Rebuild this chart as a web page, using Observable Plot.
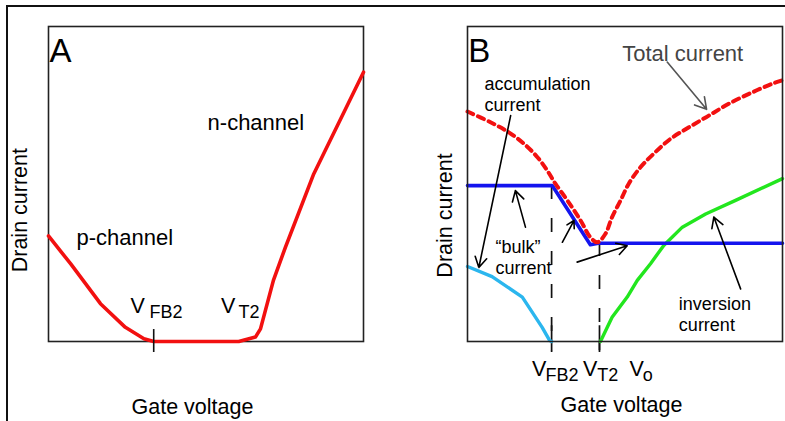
<!DOCTYPE html>
<html>
<head>
<meta charset="utf-8">
<script src="https://cdn.jsdelivr.net/npm/d3@7"></script>
<script src="https://cdn.jsdelivr.net/npm/@observablehq/plot@0.6"></script>
<style>
  html, body { margin: 0; padding: 0; background: #fff; }
  #wrap { position: relative; width: 785px; height: 421px; overflow: hidden; font-family: "Liberation Sans", Arial, sans-serif; }
  #frame { position: absolute; left: 6px; top: 5px; width: 800px; height: 430px; border-top: 2px solid #111; border-left: 2px solid #111; }
  #pa { position: absolute; left: 0; top: 0; }
  #pb { position: absolute; left: 392px; top: 0; }
</style>
</head>
<body>
<div id="wrap"><div id="frame"></div><div id="pa"></div><div id="pb"></div></div>
<script>
// ---------- Panel A: drain current vs gate voltage (schematic units 0..10) ----------
const aGate  = [0, 0.70, 1.65, 2.44, 3.03, 3.34, 6.04, 6.57, 6.73, 7.14, 7.52, 8.42, 10.0];
const aDrain = [3.35, 2.47, 1.20, 0.45, 0.09, 0, 0, 0.14, 0.40, 1.94, 2.99, 5.32, 8.55];
const aVFB2 = 3.34;

// ---------- Panel B ----------
const totalGate  = [0, 0.73, 1.31, 1.79, 2.22, 2.53, 2.79, 3.17, 3.59, 3.90, 4.12, 4.38, 4.59, 4.86, 5.12, 5.49, 5.91, 6.44, 7.03, 7.66, 8.30, 9.04, 9.67, 9.99];
const totalDrain = [7.30, 6.96, 6.64, 6.28, 5.85, 5.43, 5.01, 4.48, 3.84, 3.31, 3.15, 3.42, 3.95, 4.48, 5.01, 5.53, 5.96, 6.43, 6.80, 7.17, 7.55, 7.91, 8.18, 8.29];
const bulkGate  = [0, 2.69, 3.90, 4.15, 10.0];
const bulkDrain = [4.95, 4.95, 3.07, 3.12, 3.12];
const accumGate  = [0, 0.78, 1.74, 2.37, 2.61, 2.67];
const accumDrain = [2.38, 2.06, 1.41, 0.45, 0.03, 0];
const invGate  = [4.22, 4.59, 5.07, 5.39, 5.81, 6.23, 6.82, 7.56, 8.51, 10.0];
const invDrain = [0, 0.77, 1.41, 1.94, 2.47, 3.05, 3.63, 4.05, 4.48, 5.17];
const bVFB2 = 2.67, bVT2 = 4.19;
const bDashTop = [4.95, 3.14];

// text labels
const tickMain = ["V", "V", "V"];
const tickSubA = ["FB2", "T2"];
const tickSubB = ["FB2", "T2", "o"];

const toRows = (xs, ys) => xs.map((x, i) => ({x, y: ys[i]}));

const FONT = "Liberation Sans, Arial, Helvetica, sans-serif";
const common = {
  height: 421, marginTop: 26, marginBottom: 80,
  x: {domain: [0, 10], axis: null},
  y: {domain: [0, 10], axis: null},
  style: {background: "transparent", overflow: "visible", fontFamily: FONT, color: "#000"}
};

// Panel A label anchors (data units)
const aLabels = [
  {text: "n-channel", x: 5.05, y: 6.73},
  {text: "p-channel", x: 0.89, y: 3.05}
];
const aTickMain = [{text: tickMain[0], x: 2.60, y: 0.89}, {text: tickMain[1], x: 5.48, y: 0.89}];
const aTickSub  = [{text: tickSubA[0], x: 3.21, y: 0.76}, {text: tickSubA[1], x: 6.03, y: 0.76}];

const plotA = Plot.plot({
  ...common, width: 392, marginLeft: 48, marginRight: 29,
  marks: [
    Plot.frame({stroke: "#222", strokeWidth: 1.6}),
    Plot.line(toRows(aGate, aDrain), {x: "x", y: "y", stroke: "#f21010", strokeWidth: 3.6, strokeLinejoin: "round"}),
    Plot.ruleX([aVFB2], {y1: -0.35, y2: 0.38, stroke: "#111", strokeWidth: 1.6}),
    Plot.text(["A"], {x: 0.03, y: 8.86, textAnchor: "start", lineAnchor: "bottom", fontSize: 33}),
    Plot.text(aLabels, {x: "x", y: "y", text: "text", textAnchor: "start", lineAnchor: "bottom", fontSize: 22}),
    Plot.text(aTickMain, {x: "x", y: "y", text: "text", textAnchor: "start", lineAnchor: "bottom", fontSize: 21.5}),
    Plot.text(aTickSub, {x: "x", y: "y", text: "text", textAnchor: "start", lineAnchor: "bottom", fontSize: 18}),
    Plot.text(["Drain current"], {x: -0.89, y: 4.17, rotate: -90, textAnchor: "middle", lineAnchor: "middle", fontSize: 21.5}),
    Plot.text(["Gate voltage"], {x: 4.57, y: -2.29, textAnchor: "middle", lineAnchor: "bottom", fontSize: 21.5})
  ]
});
document.getElementById("pa").appendChild(plotA);

// Panel B annotations
const bLabels = [
  {text: "accumulation\ncurrent", x: 0.54, y: 7.31},
  {text: "\u201cbulk\u201d\ncurrent", x: 0.89, y: 2.13},
  {text: "inversion\ncurrent", x: 6.71, y: 0.33}
];
const bArrows = [
  {x1: 1.37, y1: 7.17, x2: 0.36, y2: 2.35},
  {x1: 1.84, y1: 3.63, x2: 1.52, y2: 4.79},
  {x1: 3.01, y1: 3.15, x2: 3.38, y2: 3.84},
  {x1: 3.48, y1: 2.52, x2: 5.07, y2: 3.04},
  {x1: 8.67, y1: 1.67, x2: 7.82, y2: 3.95}
];
const totalArrow = [{x1: 6.34, y1: 8.87, x2: 7.59, y2: 7.37}];
const bTickMain = [{text: tickMain[0], x: 2.05}, {text: tickMain[1], x: 3.67}, {text: tickMain[2], x: 5.14}];
const bTickSub  = [{text: tickSubB[0], x: 2.48}, {text: tickSubB[1], x: 4.12}, {text: tickSubB[2], x: 5.56}];
const bDash = [{x: bVFB2, top: bDashTop[0]}, {x: bVT2, top: bDashTop[1]}];

const plotB = Plot.plot({
  ...common, width: 393, marginLeft: 75, marginRight: 3,
  marks: [
    Plot.ruleX(bDash, {x: "x", y1: "top", y2: -0.29, stroke: "#111", strokeWidth: 1.7, strokeDasharray: "14,19"}),
    Plot.ruleX([bVFB2, bVT2], {y1: -0.35, y2: 0.5, stroke: "#111", strokeWidth: 1.7}),
    Plot.line(toRows(accumGate, accumDrain), {x: "x", y: "y", stroke: "#2bb6ee", strokeWidth: 3.4, strokeLinejoin: "round"}),
    Plot.line(toRows(invGate, invDrain), {x: "x", y: "y", stroke: "#22e61e", strokeWidth: 3.4, strokeLinejoin: "round"}),
    Plot.line(toRows(bulkGate, bulkDrain), {x: "x", y: "y", stroke: "#1414ee", strokeWidth: 3.6, strokeLinejoin: "round"}),
    Plot.line(toRows(totalGate, totalDrain), {x: "x", y: "y", stroke: "#f21010", strokeWidth: 4, strokeDasharray: "6.5,5", curve: "catmull-rom"}),
    Plot.frame({stroke: "#222", strokeWidth: 1.6}),
    Plot.arrow(bArrows, {x1: "x1", y1: "y1", x2: "x2", y2: "y2", stroke: "#000", strokeWidth: 1.6, headLength: 11}),
    Plot.arrow(totalArrow, {x1: "x1", y1: "y1", x2: "x2", y2: "y2", stroke: "#555", strokeWidth: 1.6, headLength: 12}),
    Plot.text(["B"], {x: 0.02, y: 8.86, textAnchor: "start", lineAnchor: "bottom", fontSize: 33}),
    Plot.text(["Total current"], {x: 4.91, y: 8.89, textAnchor: "start", lineAnchor: "bottom", fontSize: 22, fill: "#444"}),
    Plot.text(bLabels, {x: "x", y: "y", text: "text", textAnchor: "start", lineAnchor: "bottom", fontSize: 18, lineHeight: 1.2}),
    Plot.text(bTickMain, {x: "x", y: -1.08, text: "text", textAnchor: "start", lineAnchor: "bottom", fontSize: 21.5}),
    Plot.text(bTickSub, {x: "x", y: -1.24, text: "text", textAnchor: "start", lineAnchor: "bottom", fontSize: 18}),
    Plot.text(["Drain current"], {x: -0.70, y: 4.0, rotate: -90, textAnchor: "middle", lineAnchor: "middle", fontSize: 21.5}),
    Plot.text(["Gate voltage"], {x: 4.89, y: -2.25, textAnchor: "middle", lineAnchor: "bottom", fontSize: 21.5})
  ]
});
document.getElementById("pb").appendChild(plotB);
</script>
</body>
</html>
